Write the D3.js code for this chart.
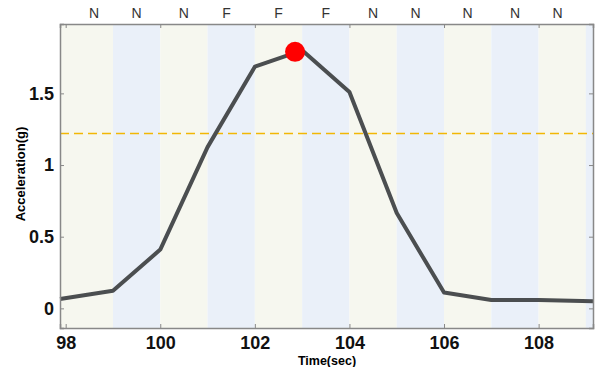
<!DOCTYPE html>
<html>
<head>
<meta charset="utf-8">
<script src="https://cdn.jsdelivr.net/npm/d3@7"></script>
<style>
  body { margin: 0; background: #fff; }
  text { font-family: "Liberation Sans", Arial, sans-serif; }
</style>
</head>
<body>
<div id="chart"></div>
<script>
// data
const times = [97.88, 99, 100, 101, 102, 103, 104, 105, 106, 107, 108, 109.15];
const accel = [0.065, 0.123, 0.41, 1.125, 1.686, 1.80, 1.51, 0.665, 0.11, 0.058, 0.058, 0.05];
const bandStarts = [97.88, 99, 100, 101, 102, 103, 104, 105, 106, 107, 108, 109];
const stateLabels = ["N", "N", "N", "F", "F", "F", "N", "N", "N", "N", "N"];
const stateCenters = [98.6, 99.5, 100.5, 101.4, 102.5, 103.5, 104.5, 105.4, 106.5, 107.5, 108.4];
const peak = { t: 102.85, a: 1.79 };
const threshold = 1.22;
const xTicks = [98, 100, 102, 104, 106, 108];
const yTicks = [0, 0.5, 1, 1.5];

const margin = { top: 24, right: 7, bottom: 39, left: 60 };
const W = 600, H = 367;
const width = W - margin.left - margin.right;
const height = H - margin.top - margin.bottom;

const svg = d3.select("#chart").append("svg")
    .attr("width", W).attr("height", H);
const g = svg.append("g").attr("transform", `translate(${margin.left},${margin.top})`);

const x = d3.scaleLinear().domain([97.88, 109.15]).range([0, width]);
const y = d3.scaleLinear().domain([-0.137, 1.984]).range([height, 0]);

// alternating background bands
const bandEnds = bandStarts.slice(1).concat([109.15]);
g.selectAll(".band").data(bandStarts).join("rect")
    .attr("class", "band")
    .attr("x", d => x(d))
    .attr("width", (d, i) => x(bandEnds[i]) - x(d))
    .attr("y", 0).attr("height", height)
    .attr("fill", (d, i) => i % 2 === 0 ? "#f6f7ef" : "#eaf0f9");

// threshold
g.append("line")
    .attr("x1", 0).attr("x2", width)
    .attr("y1", y(threshold)).attr("y2", y(threshold))
    .attr("stroke", "#f2b705").attr("stroke-width", 1.5)
    .attr("stroke-dasharray", "9,5");

// acceleration line
const line = d3.line().x((d, i) => x(times[i])).y(d => y(d));
g.append("path").datum(accel)
    .attr("d", line)
    .attr("fill", "none")
    .attr("stroke", "#4b4e50")
    .attr("stroke-width", 4)
    .attr("stroke-linejoin", "round");

g.append("circle")
    .attr("cx", x(peak.t)).attr("cy", y(peak.a))
    .attr("r", 10).attr("fill", "#ff0000");

// axes
const axisCol = "#888";
const xb = g.append("g").attr("transform", `translate(0,${height})`)
    .call(d3.axisBottom(x).tickValues(xTicks).tickSize(-4).tickPadding(8).tickFormat(d3.format("d")));
const xt = g.append("g")
    .call(d3.axisTop(x).tickValues(xTicks).tickSize(-4).tickFormat(""));
const yl = g.append("g")
    .call(d3.axisLeft(y).tickValues(yTicks).tickSize(-4).tickPadding(6).tickFormat(d => d === 0 ? "0" : d3.format("")(d)));
const yr = g.append("g").attr("transform", `translate(${width},0)`)
    .call(d3.axisRight(y).tickValues(yTicks).tickSize(-4).tickFormat(""));

[xb, xt, yl, yr].forEach(a => {
    a.select(".domain").attr("stroke", axisCol).attr("stroke-width", 1.5);
    a.selectAll(".tick line").attr("stroke", axisCol);
    a.selectAll("text").attr("fill", "#111").style("font-size", "18px").style("font-weight", "bold");
});

// state labels on top
g.selectAll(".state").data(stateLabels).join("text")
    .attr("class", "state")
    .attr("x", (d, i) => x(stateCenters[i]))
    .attr("y", -6)
    .attr("text-anchor", "middle")
    .attr("fill", "#333")
    .style("font-size", "14px")
    .text(d => d);

// axis titles
svg.append("text")
    .attr("x", 327).attr("y", 365)
    .attr("text-anchor", "middle")
    .style("font-size", "12.5px").style("font-weight", "bold")
    .text("Time(sec)");

svg.append("text")
    .attr("transform", "translate(25,174) rotate(-90)")
    .attr("text-anchor", "middle")
    .style("font-size", "13px").style("font-weight", "bold")
    .text("Acceleration(g)");
</script>
</body>
</html>
